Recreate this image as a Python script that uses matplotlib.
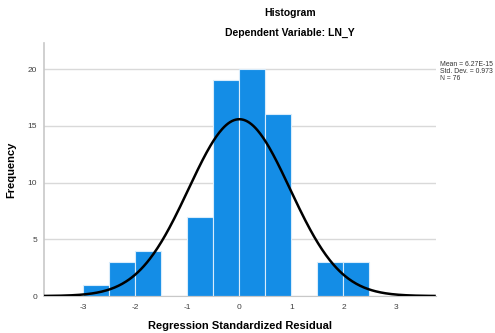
import matplotlib.pyplot as plt
import numpy as np

plt.rcParams['font.family'] = ['Liberation Sans', 'DejaVu Sans']

# histogram of standardized residuals (bin width 0.5)
bin_left = [-3.0, -2.5, -2.0, -1.0, -0.5, 0.0, 0.5, 1.5, 2.0]
counts = [1, 3, 4, 7, 19, 20, 16, 3, 3]
bin_width = 0.5
mean = 6.27e-15
std = 0.973
n = 76

xticks = [-3, -2, -1, 0, 1, 2, 3]
yticks = [0, 5, 10, 15, 20]

fig = plt.figure(figsize=(4.95, 3.33), dpi=100)
ax = fig.add_axes([0.089, 0.111, 0.792, 0.76])

ax.bar(bin_left, counts, width=bin_width, align='edge',
       color='#148de6', edgecolor='#d8ecfb', linewidth=0.8, zorder=2)

xs = np.linspace(-3.75, 3.75, 400)
pdf = n * bin_width / (std * np.sqrt(2 * np.pi)) * np.exp(-0.5 * ((xs - mean) / std) ** 2)
ax.plot(xs, pdf, color='black', lw=1.8, zorder=3)

ax.set_xlim(-3.75, 3.78)
ax.set_ylim(0, 22.3)
ax.set_xticks(xticks)
ax.set_xticklabels([str(t) for t in xticks])
ax.set_yticks(yticks)
ax.tick_params(length=0, labelsize=6, labelcolor='#404040')
ax.tick_params(axis='x', pad=6)
ax.tick_params(axis='y', pad=5)
ax.grid(axis='y', color='#d9d9d9', lw=1, zorder=0)
ax.set_axisbelow(True)
for s in ['top', 'right']:
    ax.spines[s].set_visible(False)
ax.spines['left'].set_color('#c8c8c8')
ax.spines['bottom'].set_color('#c8c8c8')
ax.spines['left'].set_linewidth(1.2)

ax.set_xlabel('Regression Standardized Residual', fontsize=8, fontweight='bold', labelpad=7)
ax.set_ylabel('Frequency', fontsize=8, fontweight='bold', labelpad=8)

fig.text(0.586, 0.96, 'Histogram', ha='center', va='center', fontsize=7.5, fontweight='bold')
fig.text(0.586, 0.90, 'Dependent Variable: LN_Y', ha='center', va='center', fontsize=7.5, fontweight='bold')

fig.text(0.889, 0.818, 'Mean = 6.27E-15\nStd. Dev. = 0.973\nN = 76',
         ha='left', va='top', fontsize=4.95, color='#333333', linespacing=1.0)

fig.savefig('out.png', dpi=100)
